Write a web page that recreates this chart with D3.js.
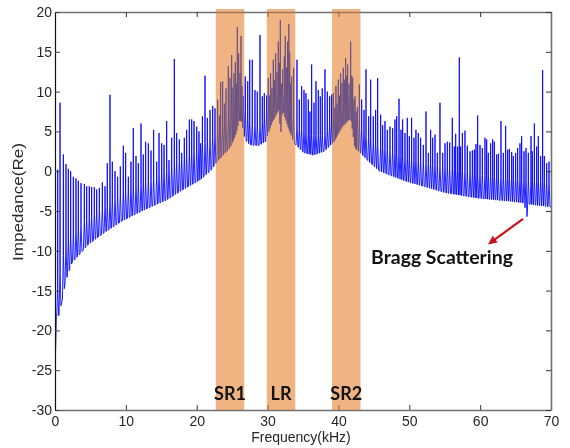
<!DOCTYPE html>
<html><head><meta charset="utf-8">
<script src="https://cdn.jsdelivr.net/npm/d3@7"></script>
<style>body{margin:0;background:#fff} svg{display:block}</style>
</head><body>
<svg id="c" width="570" height="448"></svg>
<script>
// ---------- data ----------
const xTicks = [0,10,20,30,40,50,60,70];
const yTicks = [-30,-25,-20,-15,-10,-5,0,5,10,15,20];
const bandNames = ["SR1","LR","SR2"];
const bandStart = [22.7,29.9,39.1];
const bandEnd   = [26.7,33.9,43.1];

// lower envelope of the spectrum (kHz, value)
const envF = [0,0.03,0.1,0.2,0.45,1,1.5,2.4,3.8,4.7,7,9.4,11.8,14,15.8,18.1,20.5,22.1,22.8,24.7,25.5,26.0,26.3,26.8,27.5,28.7,29.7,30.6,31.6,31.85,32.1,32.8,33.7,35.1,36.5,38.0,39.4,40.5,41.5,41.8,42.3,43.1,44.4,45.8,47.7,49.6,52.0,54.3,55.0,59.7,64.4,66.2,66.6,66.8,67.3,70];
const envV = [-30,-24,-22,-18,-18.4,-16.3,-13.8,-11.5,-10.1,-9.2,-7.7,-6.3,-5.2,-4.3,-3.6,-2.3,-1.1,0.2,1.1,2.9,4.5,6.3,6.3,4.0,3.3,3.2,3.7,6.0,7.7,4.4,7.7,5.8,3.6,2.3,2.0,2.5,3.7,5.5,6.5,6.3,2.9,2.3,1.1,0.0,-0.65,-1.3,-1.9,-2.5,-2.7,-3.4,-3.8,-4.0,-5.7,-4.1,-4.2,-4.5];
// upper edge of the dense part of the resonances
const denseF = [0.2,1,2,4,7,10,14,18,22,24,26,27.5,29,31,32,33,34,36,38,40,41.5,43,45,50,55,60,65,70];
const denseV = [-16,-11,-8.5,-6.5,-4.5,-2.5,-1,1.5,4,6,9.5,6,5.5,9.5,10.5,8.5,5.5,4.5,4.5,7.5,10,5.5,3.5,1.5,0.5,-0.5,-1,-1.5];
// resonance peaks [kHz, peak value]
const spikes = [
[0.38,0.2],[0.71,8.6],[1.18,2.1],[1.55,0.9],[1.88,0.3],[2.21,0.0],[2.59,-0.7],[2.96,-0.9],[3.29,-1.2],[3.67,-1.5],[4.14,-1.6],[4.47,-1.9],[4.84,-1.9],[5.17,-2.0],[5.55,-2.0],[5.88,-2.3],[6.26,-2.1],[6.68,-1.4],[7.06,-1.9],[7.38,1.0],[7.76,9.6],[8.09,1.2],[8.47,0.0],[8.84,-0.7],[9.22,0.6],[9.64,3.2],[9.97,2.3],[10.35,-0.7],[10.72,1.2],[11.05,5.4],[11.43,1.9],[11.76,1.0],[12.14,6.0],[12.46,2.1],[12.79,3.7],[13.17,3.5],[13.55,2.6],[13.92,5.2],
[14.35,1.2],[14.68,4.8],[15.06,3.5],[15.39,3.3],[15.76,6.3],[16.09,1.4],[16.47,4.2],[16.84,14.1],[17.17,4.8],[17.55,4.0],[17.88,2.3],[18.25,4.2],[18.58,5.2],[18.96,6.5],[19.29,6.5],[19.62,6.3],[20.0,5.6],[20.32,5.0],[20.56,3.5],[20.8,6.9],[21.17,12.0],[21.5,6.7],[21.88,7.7],[22.25,8.2],[22.58,7.9],
[22.96,9.0],[23.2,7.0],[23.38,11.2],[23.66,11.3],[23.9,8.5],[24.13,10.4],[24.46,13.2],[24.7,11.7],[24.93,14.6],[25.12,10.5],[25.26,12.3],[25.45,13.7],[25.6,11.0],[25.73,18.1],[25.92,14.8],[26.11,12.3],[26.25,17.0],[26.39,10.7],[26.58,9.4],[26.85,11.9],[27.2,11.3],[27.48,14.0],[27.84,14.0],[28.22,10.2],[28.55,10.0],[28.93,17.1],[29.26,9.4],[29.54,9.8],
[29.87,9.5],[30.1,11.7],[30.29,9.5],[30.43,12.3],[30.62,10.5],[30.81,14.0],[30.95,11.5],[31.14,14.8],[31.33,12.5],[31.51,16.3],[31.66,13.6],[31.8,19.0],[31.98,11.0],[32.13,12.8],[32.36,14.4],[32.5,17.0],[32.69,13.0],[32.83,16.3],[33.0,18.5],[33.12,14.9],[33.25,11.0],[33.4,11.9],[33.68,13.0],
[34.15,14.0],[34.48,9.0],[34.81,10.7],[35.14,10.2],[35.42,9.8],[35.75,9.0],[35.98,7.5],[36.22,13.4],[36.55,8.6],[36.83,11.3],[37.16,10.2],[37.44,9.4],[37.72,10.4],[38.1,12.8],[38.43,10.0],[38.76,9.4],[39.04,9.6],
[39.27,9.8],[39.5,8.0],[39.65,10.7],[39.8,8.5],[39.98,11.5],[40.15,9.5],[40.31,12.3],[40.5,11.1],[40.69,13.0],[40.85,11.5],[41.02,14.2],[41.16,12.0],[41.3,13.4],[41.5,11.0],[41.73,16.3],[41.88,12.0],[42.01,11.7],[42.18,9.0],[42.34,9.4],[42.5,7.5],[42.67,8.1],[42.95,10.9],
[43.28,9.0],[43.61,7.7],[43.89,12.8],[44.27,6.9],[44.55,11.5],[44.92,6.9],[45.25,7.7],[45.54,11.7],[45.96,7.1],[46.24,5.8],[46.57,6.3],[46.9,5.2],[47.28,5.6],[47.65,5.4],[47.98,6.5],[48.22,6.9],[48.55,9.1],[48.83,5.2],[49.06,6.5],[49.39,4.8],[49.72,6.7],[50.0,4.4],[50.33,6.7],[50.66,4.2],[50.94,5.2],[51.27,4.8],[51.6,4.2],[51.98,3.3],[52.36,7.5],[52.69,2.3],[53.01,5.2],[53.3,4.2],[53.63,4.6],[53.96,2.3],[54.33,8.6],[54.71,2.3],[55.04,3.5],
[55.37,3.7],[55.7,3.6],[56.07,6.7],[56.36,3.1],[56.55,4.7],[56.83,3.1],[57.06,14.3],[57.25,3.1],[57.49,4.8],[57.86,5.1],[58.19,3.2],[58.57,2.5],[58.9,2.6],[59.18,2.7],[59.41,3.4],[59.65,7.0],[59.98,3.3],[60.31,2.9],[60.68,4.2],[60.92,4.0],[61.15,2.3],[61.48,3.5],[61.77,4.0],[62.0,3.7],[62.33,2.1],[62.57,2.2],[62.94,6.3],[63.27,2.3],[63.6,5.7],[63.88,2.7],[64.12,2.8],[64.45,2.4],[64.68,1.9],[65.01,2.3],[65.29,2.9],[65.62,3.5],[65.86,4.4],[66.19,2.5],[66.47,2.9],[66.8,2.3],[67.18,4.4],[67.36,2.5],[67.65,6.0],[67.98,3.1],[68.21,4.4],[68.54,1.9],[68.82,12.7],[69.06,1.9],[69.39,1.0],[69.72,1.2]
];
// annotation (data units)
const annText = "Bragg Scattering";
const annTextPos = [44.6,-11.6];
const annArrowFrom = [66.05,-6.0];
const annArrowTo = [61.1,-9.2];
const bandLabelY = -28.7;

// ---------- drawing ----------
const svg = d3.select("#c");
const x = d3.scaleLinear().domain([0,70]).range([55,551]);
const y = d3.scaleLinear().domain([-30,20]).range([410,12]);
const base = d3.scaleLinear().domain(envF).range(envV).clamp(true);
const dense = d3.scaleLinear().domain(denseF).range(denseV).clamp(true);

// assemble the trace
const pts = [];
let ei = 0;
function pushEnv(upTo){ while(ei<envF.length && envF[ei]<upTo){ pts.push([envF[ei],envV[ei]]); ei++; } }
spikes.forEach((s,i)=>{
  const f=s[0], top=s[1];
  const prev = i>0 ? spikes[i-1][0] : f-1;
  const next = i<spikes.length-1 ? spikes[i+1][0] : f+1;
  const hl = Math.min(0.13,(f-prev)/2), hr = Math.min(0.13,(next-f)/2);
  pushEnv(f-hl);
  while(ei<envF.length && envF[ei]<f+hr) ei++;
  let m = Math.min(dense(f), top-0.3);
  m = Math.max(m, base(f));
  pts.push([f-hl, base(f-hl)],[f-0.02, m],[f, top],[f+0.02, m],[f+hr, base(f+hr)]);
});
pushEnv(Infinity);

svg.append("defs").append("clipPath").attr("id","plot")
  .append("rect").attr("x",55).attr("y",12).attr("width",496).attr("height",398);

svg.append("path").datum(pts)
  .attr("clip-path","url(#plot)")
  .attr("fill","none").attr("stroke","#0000ff").attr("stroke-width",0.85)
  .attr("stroke-linejoin","miter")
  .attr("d", d3.line().x(d=>x(d[0])).y(d=>y(d[1])));

// axes (box with inward ticks)
const fmt = d => String(d);
const gB = svg.append("g").attr("transform","translate(0,410)")
  .call(d3.axisBottom(x).tickValues(xTicks).tickFormat(fmt).tickSizeInner(-5).tickSizeOuter(0).tickPadding(6));
const gT = svg.append("g").attr("transform","translate(0,12)")
  .call(d3.axisTop(x).tickValues(xTicks).tickFormat("").tickSizeInner(-5).tickSizeOuter(0));
const gL = svg.append("g").attr("transform","translate(55,0)")
  .call(d3.axisLeft(y).tickValues(yTicks).tickFormat(fmt).tickSizeInner(-5).tickSizeOuter(0).tickPadding(3));
const gR = svg.append("g").attr("transform","translate(551,0)")
  .call(d3.axisRight(y).tickValues(yTicks).tickFormat("").tickSizeInner(-5).tickSizeOuter(0));
[gB,gT,gR].forEach(g=>{ g.select(".domain").attr("stroke","#707070").attr("stroke-width",1.6); g.selectAll(".tick line").attr("stroke","#333"); });
gL.select(".domain").attr("stroke","#111").attr("stroke-width",1.2);
gL.selectAll(".tick line").attr("stroke","#444");
[gB,gL].forEach(g=>g.selectAll("text").attr("font-family","'Liberation Sans', Arial, sans-serif").attr("font-size",14).attr("fill","#262626"));

// resonance bands: multiplied over the trace, then a translucent wash
const bands = bandNames.map((n,i)=>({name:n, x0:bandStart[i], x1:bandEnd[i]}));
const gBand = svg.append("g");
gBand.selectAll("rect.m").data(bands).join("rect").attr("class","m")
  .attr("x",d=>x(d.x0)).attr("width",d=>x(d.x1)-x(d.x0))
  .attr("y",9).attr("height",401)
  .attr("fill","#f0b482").style("mix-blend-mode","multiply");
gBand.selectAll("rect.w").data(bands).join("rect").attr("class","w")
  .attr("x",d=>x(d.x0)).attr("width",d=>x(d.x1)-x(d.x0))
  .attr("y",9).attr("height",401)
  .attr("fill","#f0b482").attr("fill-opacity",0.42);

svg.append("g").selectAll("text").data(bands).join("text")
  .attr("x",d=>x((d.x0+d.x1)/2)).attr("y",y(bandLabelY))
  .attr("text-anchor","middle")
  .attr("font-family","Lato, 'Open Sans', sans-serif").attr("font-weight","bold").attr("font-size",18)
  .attr("fill","#111").text(d=>d.name);

// axis titles
svg.append("text").attr("x",301).attr("y",441.5).attr("text-anchor","middle")
  .attr("font-family","'Liberation Sans', Arial, sans-serif").attr("font-size",14).attr("fill","#262626")
  .text("Frequency(kHz)");
svg.append("text").attr("transform","translate(23,202) rotate(-90)").attr("text-anchor","middle")
  .attr("font-family","'Liberation Sans', Arial, sans-serif").attr("font-size",14).attr("fill","#262626")
  .attr("textLength",118).attr("lengthAdjust","spacingAndGlyphs")
  .text("Impedance(Re)");

// annotation
svg.append("text").attr("x",x(annTextPos[0])).attr("y",y(annTextPos[1]))
  .attr("font-family","Lato, 'Open Sans', sans-serif").attr("font-weight","bold").attr("font-size",18)
  .attr("textLength",142).attr("lengthAdjust","spacingAndGlyphs")
  .attr("fill","#111").text(annText);
const ax0=x(annArrowFrom[0]), ay0=y(annArrowFrom[1]), ax1=x(annArrowTo[0]), ay1=y(annArrowTo[1]);
const len=Math.hypot(ax1-ax0,ay1-ay0), ux=(ax1-ax0)/len, uy=(ay1-ay0)/len;
const hL=9, hW=4.2, bx=ax1-ux*hL, by=ay1-uy*hL;
svg.append("line").attr("x1",ax0).attr("y1",ay0).attr("x2",bx+ux*2).attr("y2",by+uy*2)
  .attr("stroke","#c8161e").attr("stroke-width",2.2);
svg.append("path").attr("fill","#c8161e")
  .attr("d",`M${ax1},${ay1}L${bx-uy*hW},${by+ux*hW}L${bx+uy*hW},${by-ux*hW}Z`);
</script>
</body></html>
